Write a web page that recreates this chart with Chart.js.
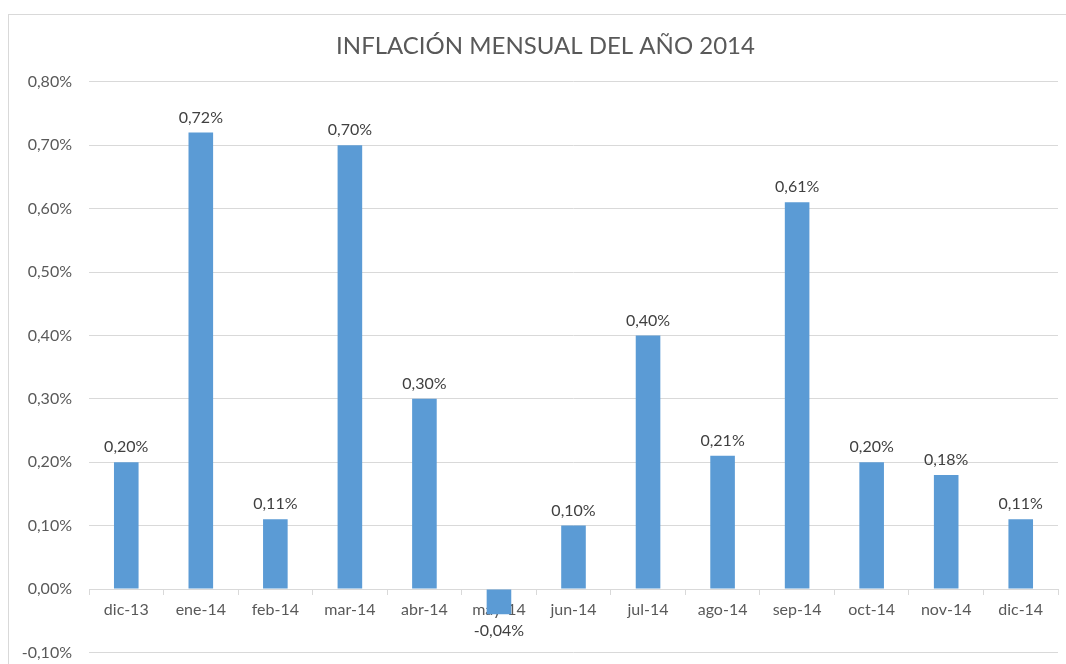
<!DOCTYPE html>
<html>
<head>
<meta charset="utf-8">
<script src="https://cdn.jsdelivr.net/npm/chart.js@4"></script>
<style>
  html, body { margin: 0; padding: 0; background: #fff; overflow: hidden; }
  #wrap { width: 1066px; height: 679px; position: relative; }
</style>
</head>
<body>
<div id="wrap"><canvas id="inflChart"></canvas></div>
<script>
const months = ['dic-13', 'ene-14', 'feb-14', 'mar-14', 'abr-14', 'may-14', 'jun-14',
                'jul-14', 'ago-14', 'sep-14', 'oct-14', 'nov-14', 'dic-14'];
const inflation = [0.20, 0.72, 0.11, 0.70, 0.30, -0.04, 0.10, 0.40, 0.21, 0.61, 0.20, 0.18, 0.11];
const yMin = -0.1, yMax = 0.8, yStep = 0.1;

const fmtPct = v => v.toFixed(2).replace('.', ',') + '%';
const FONT = 'Lato, "Open Sans", sans-serif';

// light frame around the chart, like the spreadsheet chart box
const framePlugin = {
    id: 'frame',
    beforeDraw(chart) {
        const c = chart.ctx;
        c.save();
        c.strokeStyle = '#d9d9d9';
        c.lineWidth = 1;
        c.strokeRect(8.5, 14.5, 1200, 800);
        c.restore();
    },
    // the original title sits a bit right of the canvas centre
    afterLayout(chart) {
        if (chart.titleBlock) chart.titleBlock.left += 24;
    }
};

// value labels over/under each bar
const valueLabels = {
    id: 'valueLabels',
    afterDatasetsDraw(chart) {
        const c = chart.ctx;
        const meta = chart.getDatasetMeta(0);
        c.save();
        c.font = '16px ' + FONT;
        c.fillStyle = '#404040';
        c.textAlign = 'center';
        meta.data.forEach((bar, i) => {
            const v = inflation[i];
            if (v >= 0) {
                c.textBaseline = 'bottom';
                c.fillText(fmtPct(v), bar.x, bar.y - 7);
            } else {
                c.textBaseline = 'top';
                c.fillText(fmtPct(v), bar.x, bar.y + 8);
            }
        });
        c.restore();
    }
};

new Chart(document.getElementById('inflChart'), {
    type: 'bar',
    data: {
        labels: months,
        datasets: [{
            data: inflation,
            backgroundColor: '#5b9bd5',
            borderWidth: 0,
            barPercentage: 0.33,
            categoryPercentage: 1
        }]
    },
    options: {
        responsive: true,
        maintainAspectRatio: false,
        animation: false,
        layout: { padding: { left: 9, right: 8, top: 0, bottom: 12 } },
        plugins: {
            legend: { display: false },
            tooltip: { enabled: false },
            title: {
                display: true,
                text: 'INFLACIÓN MENSUAL DEL AÑO 2014',
                color: '#595959',
                font: { family: FONT, size: 24, weight: 'normal' },
                padding: { top: 32, bottom: 21 }
            }
        },
        scales: {
            x: {
                position: { y: 0 },
                z: 1,
                offset: true,
                grid: { drawOnChartArea: false, drawTicks: true, tickLength: 5, offset: true, color: '#d9d9d9' },
                border: { color: '#d9d9d9' },
                ticks: { color: '#595959', font: { family: FONT, size: 16 }, padding: 6, autoSkip: false, maxRotation: 0 }
            },
            y: {
                min: yMin,
                max: yMax,
                grid: { color: '#d9d9d9', drawTicks: false },
                border: { display: false },
                afterFit: s => { s.width = 80; },
                ticks: {
                    stepSize: yStep,
                    padding: 17,
                    color: '#595959',
                    font: { family: FONT, size: 16 },
                    callback: v => fmtPct(v)
                }
            }
        }
    },
    plugins: [framePlugin, valueLabels]
});
</script>
</body>
</html>
